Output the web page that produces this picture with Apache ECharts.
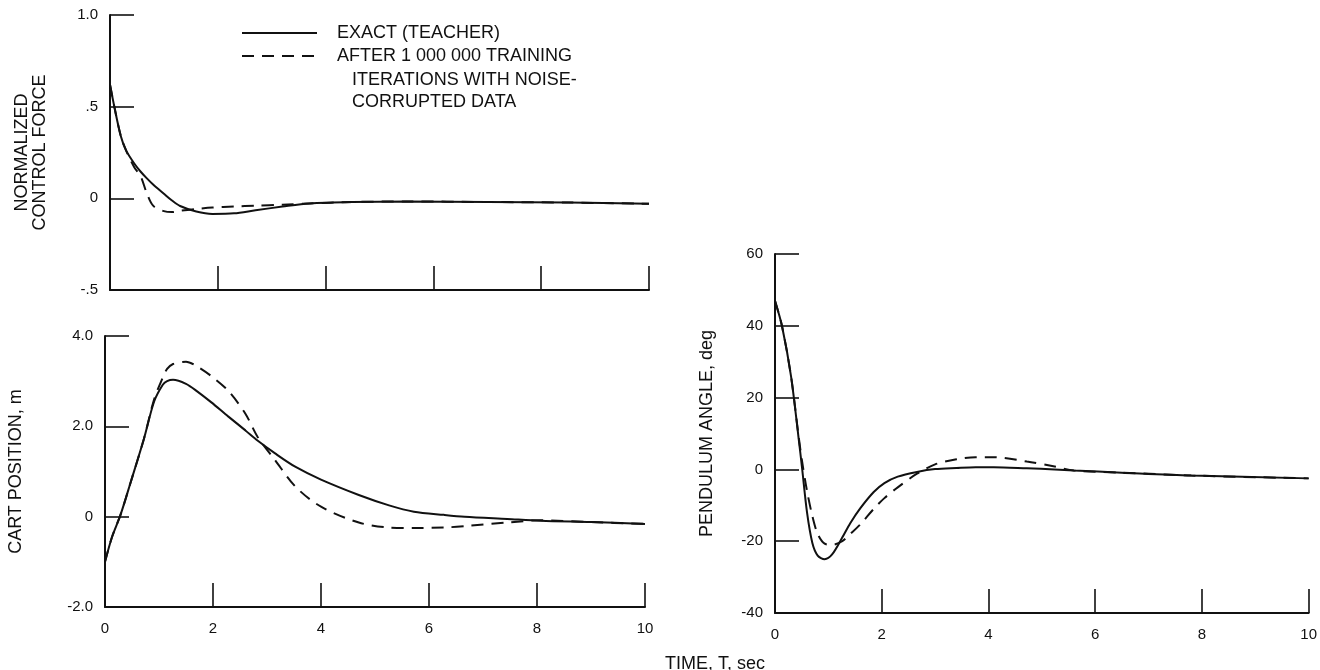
<!DOCTYPE html>
<html>
<head>
<meta charset="utf-8">
<script src="https://cdn.jsdelivr.net/npm/echarts@6/dist/echarts.min.js"></script>
<style>
html,body{margin:0;padding:0;background:#fff;}
#c{width:1320px;height:670px;}
</style>
</head>
<body>
<div id="c"></div>
<script>
// ---- data ----
const timeTicks = ['0', '2', '4', '6', '8', '10'];

const forceTicks = ['-.5', '0', '.5', '1.0'];
const forceT = [0, 0.08, 0.2, 0.3, 0.45, 0.57, 0.68, 0.8, 1.0, 1.15, 1.3, 1.6, 1.9, 2.3, 2.7, 3.2, 3.7, 4.5, 5.5, 7, 8.5, 10];
const forceExact = [0.62, 0.5, 0.34, 0.26, 0.19, 0.145, 0.11, 0.075, 0.025, -0.012, -0.042, -0.072, -0.085, -0.082, -0.065, -0.045, -0.028, -0.02, -0.017, -0.02, -0.023, -0.03];
const forceNet = [0.62, 0.5, 0.34, 0.26, 0.17, 0.12, 0.03, -0.04, -0.07, -0.075, -0.068, -0.058, -0.05, -0.045, -0.04, -0.035, -0.028, -0.02, -0.017, -0.02, -0.023, -0.03];

const cartTicks = ['-2.0', '0', '2.0', '4.0'];
const cartT = [0, 0.13, 0.29, 0.48, 0.72, 0.91, 1.07, 1.15, 1.26, 1.5, 1.7, 1.97, 2.28, 2.6, 2.83, 3.15, 3.53, 4.0, 4.7, 5.26, 5.72, 6.28, 6.66, 7.45, 8.07, 9, 10];
const cartExact = [-1.0, -0.45, 0.05, 0.78, 1.72, 2.55, 2.92, 3.0, 3.03, 2.94, 2.78, 2.53, 2.22, 1.91, 1.68, 1.4, 1.1, 0.82, 0.48, 0.25, 0.11, 0.04, 0, -0.05, -0.09, -0.12, -0.16];
const cartNet = [-1.0, -0.45, 0.05, 0.78, 1.72, 2.6, 3.08, 3.27, 3.38, 3.43, 3.33, 3.11, 2.79, 2.28, 1.76, 1.25, 0.66, 0.22, -0.13, -0.24, -0.25, -0.24, -0.21, -0.13, -0.08, -0.12, -0.16];

const angleTicks = ['-40', '-20', '0', '20', '40', '60'];
const angleT = [0, 0.13, 0.3, 0.44, 0.51, 0.6, 0.7, 0.8, 0.93, 1.07, 1.26, 1.41, 1.6, 1.85, 2.05, 2.3, 2.66, 3.0, 3.4, 3.76, 4.1, 4.72, 5.24, 5.6, 6.5, 7.8, 10];
const angleExact = [47, 40, 26, 9, 0, -12, -20.5, -24, -25, -23.7, -19, -15, -10.8, -6.3, -3.8, -2.0, -0.7, 0.1, 0.4, 0.6, 0.6, 0.3, 0, -0.3, -0.9, -1.7, -2.5];
const angleNet = [47, 40, 26, 9.5, 2, -6, -13, -18, -20.7, -21, -20, -18, -15.3, -11, -8, -5, -1.2, 1.4, 2.8, 3.4, 3.4, 2.2, 0.8, -0.3, -0.9, -1.7, -2.5];

const nameExact = 'EXACT (TEACHER)';
const nameNet = 'AFTER 1 000 000 TRAINING';
const legendMore = 'ITERATIONS WITH NOISE-\nCORRUPTED DATA';

// ---- chart ----
const FONT = '"Liberation Sans", Arial, Helvetica, sans-serif';
const INK = '#111';
const zip = (a, b) => a.map((x, i) => [x, b[i]]);
const fmt = (labels, min, step) => v => {
  const k = Math.round((v - min) / step);
  return labels[k] !== undefined ? labels[k] : '';
};

function xAxis(gi, showLabels) {
  return {
    type: 'value', gridIndex: gi, min: 0, max: 10, interval: 2,
    axisLine: { show: true, onZero: false, lineStyle: { color: INK, width: 2 } },
    axisTick: { show: true, inside: true, length: 24, lineStyle: { color: INK, width: 1.6 } },
    axisLabel: { show: showLabels, color: INK, fontSize: 15, fontFamily: FONT, margin: 14,
      formatter: fmt(timeTicks, 0, 2) },
    splitLine: { show: false }
  };
}
function yAxis(gi, min, max, step, labels, name, gap) {
  return {
    type: 'value', gridIndex: gi, min: min, max: max, interval: step,
    name: name, nameLocation: 'middle', nameRotate: 90, nameGap: gap,
    nameTextStyle: { color: INK, fontSize: 18, fontFamily: FONT, lineHeight: 18 },
    axisLine: { show: true, onZero: false, lineStyle: { color: INK, width: 2 } },
    axisTick: { show: true, inside: true, length: 24, lineStyle: { color: INK, width: 1.6 } },
    axisLabel: { color: INK, fontSize: 15, fontFamily: FONT, margin: 12,
      formatter: fmt(labels, min, step) },
    splitLine: { show: false }
  };
}
function line(name, gi, t, v, dashed) {
  return {
    name: name, type: 'line', xAxisIndex: gi, yAxisIndex: gi,
    data: zip(t, v), symbol: 'none', smooth: 0.3,
    lineStyle: { color: INK, width: 2, type: dashed ? [12, 8] : 'solid' },
    itemStyle: { color: INK },
    z: dashed ? 3 : 2
  };
}

const chart = echarts.init(document.getElementById('c'), null, { renderer: 'canvas' });
chart.setOption({
  animation: false,
  backgroundColor: '#fff',
  title: [
    { text: legendMore, left: 347, top: 64,
      textStyle: { color: INK, fontSize: 18, fontWeight: 'normal', fontFamily: FONT, lineHeight: 22 } },
    { text: 'TIME, T, sec', left: 660, top: 650,
      textStyle: { color: INK, fontSize: 18, fontWeight: 'normal', fontFamily: FONT } }
  ],
  legend: {
    data: [nameExact, nameNet], orient: 'vertical', left: 241, top: 23, padding: 0,
    itemWidth: 75, itemHeight: 14, itemGap: 3, selectedMode: false,
    itemStyle: { color: 'rgba(0,0,0,0)', borderColor: 'rgba(0,0,0,0)', borderWidth: 0, opacity: 0 },
    lineStyle: { color: INK, width: 2 },
    textStyle: { color: INK, fontSize: 18, fontFamily: FONT, lineHeight: 20, padding: [0, 0, 0, 15] }
  },
  grid: [
    { left: 110, top: 15, width: 539, height: 275 },
    { left: 105, top: 336, width: 540, height: 271 },
    { left: 775, top: 254, width: 540, height: 359 }
  ],
  xAxis: [xAxis(0, false), xAxis(1, true), xAxis(2, true)],
  yAxis: [
    yAxis(0, -0.5, 1.0, 0.5, forceTicks, 'NORMALIZED\nCONTROL FORCE', 61),
    yAxis(1, -2, 4, 2, cartTicks, 'CART POSITION, m', 80),
    yAxis(2, -40, 60, 20, angleTicks, 'PENDULUM ANGLE, deg', 59)
  ],
  series: [
    line(nameExact, 0, forceT, forceExact, false),
    line(nameNet, 0, forceT, forceNet, true),
    line(nameExact, 1, cartT, cartExact, false),
    line(nameNet, 1, cartT, cartNet, true),
    line(nameExact, 2, angleT, angleExact, false),
    line(nameNet, 2, angleT, angleNet, true)
  ]
});
</script>
</body>
</html>
